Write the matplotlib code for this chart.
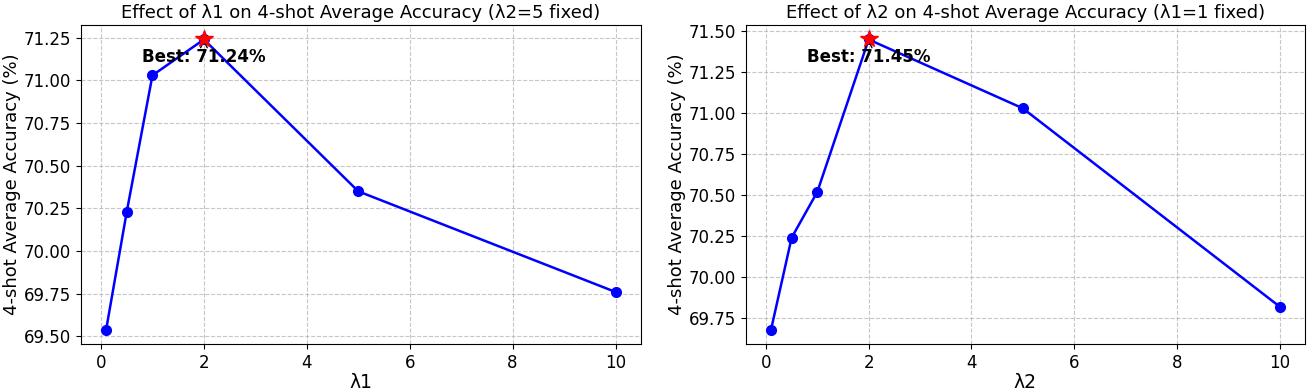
import matplotlib
matplotlib.use("Agg")
from matplotlib import pyplot as plt

lambda_values = [0.1, 0.5, 1, 2, 5, 10]
acc_lambda1 = [69.54, 70.23, 71.03, 71.24, 70.35, 69.76]
acc_lambda2 = [69.68, 70.24, 70.52, 71.45, 71.03, 69.82]

panels = [
    ("λ1", acc_lambda1, "Effect of λ1 on 4-shot Average Accuracy (λ2=5 fixed)"),
    ("λ2", acc_lambda2, "Effect of λ2 on 4-shot Average Accuracy (λ1=1 fixed)"),
]


def plot_panel(ax, xs, ys, xlabel, title):
    ax.plot(xs, ys, "o-", color="blue", linewidth=1.8, markersize=7)
    best = max(range(len(ys)), key=lambda i: ys[i])
    ax.plot(xs[best], ys[best], "*", color="red", markersize=13, zorder=5)
    ax.annotate(f"Best: {ys[best]:.2f}%", xy=(xs[best], ys[best]),
                xytext=(0, -16), textcoords="offset points", ha="center",
                fontsize=12, fontweight="bold",
                arrowprops=dict(arrowstyle="->", color="black"))
    ax.set_xlabel(xlabel, fontsize=13.5, labelpad=1)
    ax.set_ylabel("4-shot Average Accuracy (%)", fontsize=13, labelpad=2)
    ax.set_title(title, fontsize=13, pad=5)
    ax.tick_params(labelsize=12)
    ax.grid(True, linestyle="--", alpha=0.7)


fig = plt.figure(figsize=(13.1, 3.91), dpi=100)
ax1 = fig.add_axes([0.0616, 0.1202, 0.4277, 0.8159])
ax2 = fig.add_axes([0.5692, 0.1202, 0.4270, 0.8159])
for ax, (xlabel, ys, title) in zip([ax1, ax2], panels):
    plot_panel(ax, lambda_values, ys, xlabel, title)

fig.savefig("out.png", dpi=100)
